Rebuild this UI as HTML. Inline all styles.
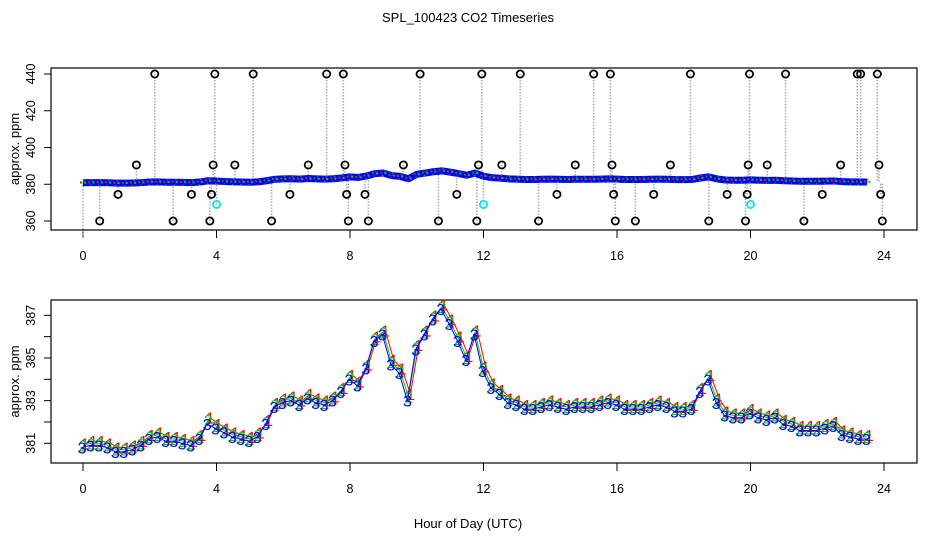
<!DOCTYPE html>
<html><head><meta charset="utf-8">
<style>
html,body{margin:0;padding:0;background:#fff;}
svg{display:block;font-family:"Liberation Sans",sans-serif;}
</style></head>
<body>
<svg id="chart" width="936" height="540" viewBox="0 0 936 540" xmlns="http://www.w3.org/2000/svg">
<rect width="936" height="540" fill="#fff"/>
<text x="468" y="22" font-size="13" text-anchor="middle">SPL_100423  CO2 Timeseries</text>
<text x="468" y="528" font-size="13" text-anchor="middle">Hour of Day (UTC)</text>
<g id="top"></g>
<g id="bottom"></g>
</svg>
<script>
// ---- data ----
const hours = [];
for (let i = 0; i < 96; i++) hours.push(i * 0.25);
const seriesBlue = [380.8,380.9,380.9,380.8,380.6,380.6,380.7,380.9,381.2,381.3,381.1,381.1,381.0,380.9,381.2,381.9,
381.7,381.5,381.3,381.2,381.1,381.3,381.9,382.7,382.9,383.0,382.8,383.1,382.9,382.8,383.0,383.4,
384.0,383.7,384.5,385.8,386.1,384.7,384.3,383.0,385.4,386.1,386.8,387.3,386.6,385.8,384.9,386.1,
384.4,383.6,383.3,382.9,382.8,382.6,382.6,382.7,382.8,382.7,382.6,382.7,382.7,382.7,382.8,382.9,
382.8,382.6,382.6,382.6,382.7,382.8,382.7,382.5,382.5,382.6,383.4,384.0,382.9,382.3,382.2,382.2,
382.4,382.2,382.1,382.2,381.9,381.8,381.6,381.6,381.6,381.7,381.8,381.4,381.3,381.2,381.2,null];
const seriesGreen = [380.9,381.0,381.0,380.9,380.7,380.7,380.8,381.0,381.3,381.4,381.2,381.2,381.1,381.0,381.3,382.1,
381.8,381.6,381.4,381.3,381.2,381.4,382.0,382.8,383.0,383.1,382.9,383.2,383.0,382.9,383.1,383.5,
384.1,383.8,384.6,385.9,386.2,384.8,384.4,383.2,385.5,386.2,386.9,387.4,386.7,385.9,385.0,386.2,
384.5,383.7,383.4,383.0,382.9,382.7,382.7,382.8,382.9,382.8,382.7,382.8,382.8,382.8,382.9,383.0,
382.9,382.7,382.7,382.7,382.8,382.9,382.8,382.6,382.6,382.7,383.5,384.1,383.0,382.4,382.3,382.3,
382.5,382.3,382.2,382.3,382.0,381.9,381.7,381.7,381.7,381.8,381.9,381.5,381.4,381.3,381.3,null];
const seriesRed = [381.0,381.1,381.1,381.0,380.8,380.8,380.9,381.1,381.4,381.5,381.3,381.3,381.2,381.1,381.4,382.2,
381.9,381.7,381.5,381.4,381.3,381.5,382.1,382.9,383.1,383.2,383.0,383.3,383.1,383.0,383.2,383.6,
384.2,383.9,384.7,386.0,386.3,384.9,384.5,383.3,385.6,386.3,387.0,387.5,386.8,386.0,385.1,386.3,
384.6,383.8,383.5,383.1,383.0,382.8,382.8,382.9,383.0,382.9,382.8,382.9,382.9,382.9,383.0,383.1,
383.0,382.8,382.8,382.8,382.9,383.0,382.9,382.7,382.7,382.8,383.6,384.2,383.1,382.5,382.4,382.4,
382.6,382.4,382.3,382.4,382.1,382.0,381.8,381.8,381.8,381.9,382.0,381.6,381.5,381.4,381.4,null];
const spikeHours = [0.5,1.05,1.6,2.15,2.7,3.25,3.8,3.85,3.9,3.95,4.55,5.1,5.65,6.2,6.75,7.3,7.8,7.85,7.9,7.95,8.45,8.55,9.6,10.1,10.65,11.2,11.8,11.85,11.95,12.55,13.1,13.65,14.2,14.75,15.3,15.8,15.85,15.9,15.95,16.55,17.1,17.6,18.2,18.75,19.3,19.85,19.9,19.93,19.97,20.5,21.05,21.6,22.15,22.7,23.2,23.3,23.8,23.85,23.9,23.95];
const spikeValues = [360,374.5,390.5,440,360,374.5,360,374.5,390.5,440,390.5,440,360,374.5,390.5,440,440,390.5,374.5,360,374.5,360,390.5,440,360,374.5,360,390.5,440,390.5,440,360,374.5,390.5,440,440,390.5,374.5,360,360,374.5,390.5,440,360,374.5,360,374.5,390.5,440,390.5,440,360,374.5,390.5,440,440,440,390.5,374.5,360];
const calHours = [4.0, 12.0, 20.0];
const calValues = [369, 369, 369];
const xTicks = [0,4,8,12,16,20,24];
const topYTicks = [360,380,400,420,440];
const botYTicks = [381,382,383,384,385,386,387];
const botYLabels = ["381","","383","","385","","387"];

// ---- axes ----
const NS = "http://www.w3.org/2000/svg";
const L = 51, R = 917;
const xs = h => 83 + h * (884 - 83) / 24;
const yTop = v => 221 - (v - 360) * (221 - 74) / 80;
const yBot = v => 443.3 - (v - 381) * 21.33;
function mk(tag, attrs, parent) {
  const e = document.createElementNS(NS, tag);
  for (const k in attrs) e.setAttribute(k, attrs[k]);
  parent.appendChild(e);
  return e;
}
function axes(g, top, bot, yf, yt, ylabs, prefix) {
  const box = mk("rect", {x: L, y: top, width: R - L, height: bot - top, fill: "none", stroke: "#000", "stroke-width": 1.2}, g);
  
  
  const xa = mk("g", {}, g);
  
  
  mk("line", {x1: xs(xTicks[0]), x2: xs(xTicks[xTicks.length - 1]), y1: bot, y2: bot, stroke: "#000"}, xa);
  xTicks.forEach(t => {
    mk("line", {x1: xs(t), x2: xs(t), y1: bot, y2: bot + 8, stroke: "#000"}, xa);
    const tx = mk("text", {x: xs(t), y: bot + 30, "font-size": 12.5, "text-anchor": "middle"}, xa);
    tx.textContent = t;
    
    
  });
  const ya = mk("g", {}, g);
  
  
  mk("line", {x1: L, x2: L, y1: yf(yt[0]), y2: yf(yt[yt.length - 1]), stroke: "#000"}, ya);
  yt.forEach((t, i) => {
    mk("line", {x1: L - 7, x2: L, y1: yf(t), y2: yf(t), stroke: "#000"}, ya);
    if (ylabs[i] !== "") {
      const tx = mk("text", {x: 0, y: 0, "font-size": 12.5, "text-anchor": "middle", transform: `translate(${L - 16},${yf(t)}) rotate(-90)`}, ya);
      tx.textContent = ylabs[i];
      
      
    }
  });
  const yl = mk("text", {x: 0, y: 0, "font-size": 13, "text-anchor": "middle", transform: `translate(19,${(top + bot) / 2}) rotate(-90)`}, g);
  yl.textContent = "approx. ppm";
  
  
}

// ---- top panel ----
const gt = document.getElementById("top");


axes(gt, 68, 230, yTop, topYTicks, topYTicks.map(String), "top");
function baseAt(h) {
  const i = Math.min(95, Math.round(h / 0.25));
  return seriesBlue[i] == null ? seriesBlue[94] : seriesBlue[i];
}
spikeHours.forEach((h, i) => {
  const ln = mk("line", {x1: xs(h), x2: xs(h), y1: yTop(spikeValues[i]), y2: yTop(baseAt(h)), stroke: "#aaa", "stroke-width": 1.5, "stroke-dasharray": "1.5,1.5"}, gt);
  
  
});
calHours.forEach((h, i) => {
  const ln = mk("line", {x1: xs(h), x2: xs(h), y1: yTop(calValues[i]), y2: yTop(baseAt(h)), stroke: "#aaa", "stroke-width": 1.5, "stroke-dasharray": "1.5,1.5"}, gt);
  
  
});
mk("line", {x1: xs(0), x2: xs(0), y1: yTop(baseAt(0)), y2: 238, stroke: "#aaa", "stroke-width": 1.5, "stroke-dasharray": "1.5,1.5"}, gt);
{
  let d = "";
  seriesBlue.forEach((v, i) => { if (v != null) d += (d ? "L" : "M") + xs(hours[i]) + "," + yTop(v); });
  const p = mk("path", {d: d, fill: "none", stroke: "#0000ff", "stroke-width": 7, "stroke-linejoin": "round"}, gt);
  
  
}
[["#ff0000", seriesRed, -2], ["#00cc00", seriesGreen, 2]].forEach(([col, arr, dx]) => {
  arr.forEach((v, i) => {
    if (v == null) return;
    const c = mk("rect", {x: xs(hours[i]) + dx - 1, y: yTop(v) - 1, width: 2, height: 2, fill: col}, gt);
    
    
  });
});
seriesBlue.forEach((v, i) => {
  if (v == null) return;
  const c = mk("circle", {cx: xs(hours[i]), cy: yTop(v), r: 2.5, fill: "none", stroke: "#00cc00", "stroke-width": 1, "stroke-dasharray": "1,3"}, gt);
  
  
});
spikeHours.forEach((h, i) => {
  const c = mk("circle", {cx: xs(h), cy: yTop(spikeValues[i]), r: 3.6, fill: "none", stroke: "#000", "stroke-width": 1.8}, gt);
  
  
});
calHours.forEach((h, i) => {
  const c = mk("circle", {cx: xs(h), cy: yTop(calValues[i]), r: 3.6, fill: "none", stroke: "#00e5e5", "stroke-width": 1.8}, gt);
  
  
});

// ---- bottom panel ----
const gb = document.getElementById("bottom");


axes(gb, 300, 463, yBot, botYTicks, botYLabels, "bottom");
[["#ff0000", seriesRed, "1", 2], ["#00cc00", seriesGreen, "2", 0], ["#0000ff", seriesBlue, "3", -1]].forEach(([col, arr, ch, dx]) => {
  let d = "";
  let pen = false;
  arr.forEach((v, i) => {
    if (v == null) { pen = false; return; }
    d += (pen ? "L" : "M") + (xs(hours[i]) + dx) + "," + yBot(v);
    pen = true;
  });
  const p = mk("path", {d: d, fill: "none", stroke: col, "stroke-width": 1}, gb);
  
  
  arr.forEach((v, i) => {
    if (v == null) return;
    const t = mk("text", {x: xs(hours[i]) + dx, y: yBot(v) + 6, "font-size": 16, "text-anchor": "middle", fill: col}, gb);
    t.textContent = ch;
    
    
  });
});
</script>
</body></html>
